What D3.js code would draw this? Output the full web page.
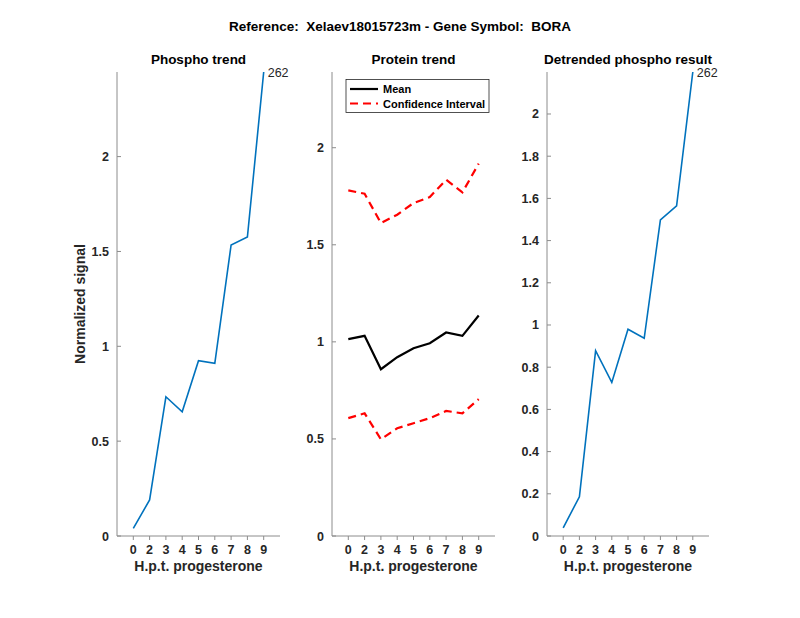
<!DOCTYPE html>
<html><head><meta charset="utf-8">
<script src="https://cdn.jsdelivr.net/npm/d3@7"></script>
<style>body{margin:0;background:#fff}svg{font-family:"Liberation Sans",Arial,sans-serif}text{white-space:pre}</style>
</head><body><svg id="c" width="800" height="618"></svg>
<script>
const categories = ["0","2","3","4","5","6","7","8","9"];
const phosphoTrend = [0.04,0.19,0.734,0.655,0.924,0.91,1.534,1.576,2.446];
const proteinMean = [1.014,1.031,0.859,0.921,0.967,0.993,1.048,1.031,1.136];
const proteinLower = [0.607,0.632,0.498,0.555,0.581,0.607,0.644,0.632,0.705];
const proteinUpper = [1.78,1.763,1.612,1.655,1.715,1.746,1.835,1.77,1.918];
const detrended = [0.039,0.186,0.878,0.728,0.98,0.937,1.498,1.565,2.199];
const ticks1 = [0,0.5,1,1.5,2];
const ticks2 = [0,0.5,1,1.5,2];
const ticks3 = [0,0.2,0.4,0.6,0.8,1,1.2,1.4,1.6,1.8,2];
const peptideLabel = "262";

const svg = d3.select("#c");
const plotTop = 72, plotBottom = 536;
const tickColor = "#262626";

svg.append("text").attr("x",400).attr("y",31).attr("text-anchor","middle")
  .attr("font-size",13.5).attr("font-weight","bold").attr("fill","#000")
  .text("Reference:  Xelaev18015723m - Gene Symbol:  BORA");

function panel(x0, x1, ymax, ticks, title, fmt){
  const g = svg.append("g");
  const x = d3.scaleLinear().domain([0,10]).range([x0,x1]);
  const y = d3.scaleLinear().domain([0,ymax]).range([plotBottom,plotTop]);
  g.append("line").attr("x1",x0).attr("x2",x1).attr("y1",plotBottom).attr("y2",plotBottom).attr("stroke","#8c8c8c").attr("stroke-width",1);
  g.append("line").attr("x1",x0).attr("x2",x0).attr("y1",plotBottom).attr("y2",plotTop).attr("stroke","#8c8c8c").attr("stroke-width",1);
  ticks.forEach(t=>{
    g.append("line").attr("x1",x0).attr("x2",x0+4).attr("y1",y(t)).attr("y2",y(t)).attr("stroke","#8c8c8c");
    g.append("text").attr("x",x0-8).attr("y",y(t)).attr("dy","0.36em").attr("text-anchor","end")
      .attr("font-size",12.5).attr("font-weight","bold").attr("fill",tickColor).text(fmt(t));
  });
  categories.forEach((c,i)=>{
    g.append("line").attr("x1",x(i+1)).attr("x2",x(i+1)).attr("y1",plotBottom).attr("y2",plotBottom+4).attr("stroke","#8c8c8c");
    g.append("text").attr("x",x(i+1)).attr("y",plotBottom+18).attr("text-anchor","middle")
      .attr("font-size",12.5).attr("font-weight","bold").attr("fill",tickColor).text(c);
  });
  g.append("text").attr("x",(x0+x1)/2).attr("y",plotBottom+35).attr("text-anchor","middle")
    .attr("font-size",14).attr("font-weight","bold").attr("fill",tickColor).text("H.p.t. progesterone");
  g.append("text").attr("x",(x0+x1)/2).attr("y",64).attr("text-anchor","middle")
    .attr("font-size",13.5).attr("font-weight","bold").attr("fill","#000").text(title);
  return {g,x,y};
}
function fmtNum(t){ return String(+t.toFixed(1)); }

const p1 = panel(117, 280, 2.446, ticks1, "Phospho trend", fmtNum);
const line1 = d3.line().x((d,i)=>p1.x(i+1)).y(d=>p1.y(d));
p1.g.append("path").datum(phosphoTrend).attr("d",line1).attr("fill","none").attr("stroke","#0072BD").attr("stroke-width",1.6);
p1.g.append("text").attr("x",p1.x(9)+4).attr("y",p1.y(phosphoTrend[8])+5).attr("font-size",12.5).attr("fill","#262626").text(peptideLabel);
svg.append("text").attr("transform","translate(85,304) rotate(-90)").attr("text-anchor","middle")
  .attr("font-size",14).attr("font-weight","bold").attr("fill",tickColor).text("Normalized signal");

const p2 = panel(332, 495, 2.39, ticks2, "Protein trend", fmtNum);
const line2 = d3.line().x((d,i)=>p2.x(i+1)).y(d=>p2.y(d));
[proteinUpper, proteinLower].forEach(s=>{
  p2.g.append("path").datum(s).attr("d",line2).attr("fill","none").attr("stroke","#ff0000").attr("stroke-width",2.2).attr("stroke-dasharray","8,5");
});
p2.g.append("path").datum(proteinMean).attr("d",line2).attr("fill","none").attr("stroke","#000").attr("stroke-width",2.2);
const lg = p2.g.append("g");
lg.append("rect").attr("x",346).attr("y",79.5).attr("width",143).attr("height",33).attr("fill","#fff").attr("stroke","#262626").attr("stroke-width",0.8);
lg.append("line").attr("x1",350).attr("x2",378).attr("y1",89).attr("y2",89).attr("stroke","#000").attr("stroke-width",2.2);
lg.append("line").attr("x1",350).attr("x2",378).attr("y1",103.5).attr("y2",103.5).attr("stroke","#ff0000").attr("stroke-width",2.2).attr("stroke-dasharray","8,5");
lg.append("text").attr("x",383).attr("y",93).attr("font-size",11).attr("font-weight","bold").attr("fill","#000").text("Mean");
lg.append("text").attr("x",383).attr("y",107.5).attr("font-size",11).attr("font-weight","bold").attr("fill","#000").text("Confidence Interval");

const p3 = panel(547, 709, 2.199, ticks3, "Detrended phospho result", fmtNum);
const line3 = d3.line().x((d,i)=>p3.x(i+1)).y(d=>p3.y(d));
p3.g.append("path").datum(detrended).attr("d",line3).attr("fill","none").attr("stroke","#0072BD").attr("stroke-width",1.6);
p3.g.append("text").attr("x",p3.x(9)+4).attr("y",p3.y(detrended[8])+5).attr("font-size",12.5).attr("fill","#262626").text(peptideLabel);
</script></body></html>
